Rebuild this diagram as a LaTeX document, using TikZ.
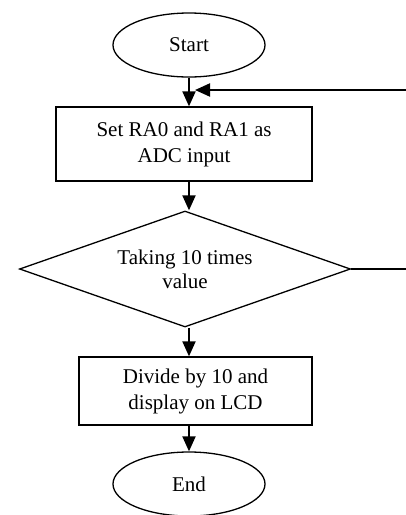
\documentclass[tikz,border=0pt]{standalone}
\usepackage{fontspec}
\setmainfont{Liberation Serif}
\usetikzlibrary{shapes.geometric,arrows.meta}
\tikzset{
  every node/.style={font=\fontsize{21}{26}\selectfont, align=center, inner sep=0pt},
  term/.style={ellipse, draw, line width=1.3pt, minimum width=152pt, minimum height=64pt},
  proc/.style={rectangle, draw, line width=1.3pt},
  decide/.style={diamond, draw, line width=1.3pt, aspect=2.85, minimum width=331pt, minimum height=116pt, font=\fontsize{21}{24}\selectfont},
  flow/.style={line width=2pt, -{Triangle[length=15pt,width=13pt]}},
  thinline/.style={line width=1.1pt}
}
\begin{document}
\begin{tikzpicture}[x=1pt,y=-1pt]
\useasboundingbox (0,0) rectangle (406,515);
\node[term] (start) at (189,45) {Start};
\node[proc, minimum width=256pt, minimum height=74pt] (set) at (184,144) {Set RA0 and RA1 as\\ADC input};
\node[decide] (dec) at (185,269) {Taking 10 times\\value};
\node[proc, minimum width=233pt, minimum height=68pt] (div) at (195.5,391) {Divide by 10 and\\display on LCD};
\node[term] (end) at (189,484) {End};
\coordinate (r1) at (407,90);
\coordinate (r2) at (407,269);
\coordinate (join) at (195,90);
\draw[flow] (start.south) -- (start.south |- set.north);
\draw[flow] (set.south -| start.south) -- (dec.north -| start.south);
\draw[flow] (dec.south -| start.south) -- (div.north -| start.south);
\draw[flow] (div.south -| end.north) -- (end.north);
\draw[flow] (r1) -- (join);
\draw[thinline] (dec.east) -- (r2);
\end{tikzpicture}
\end{document}
